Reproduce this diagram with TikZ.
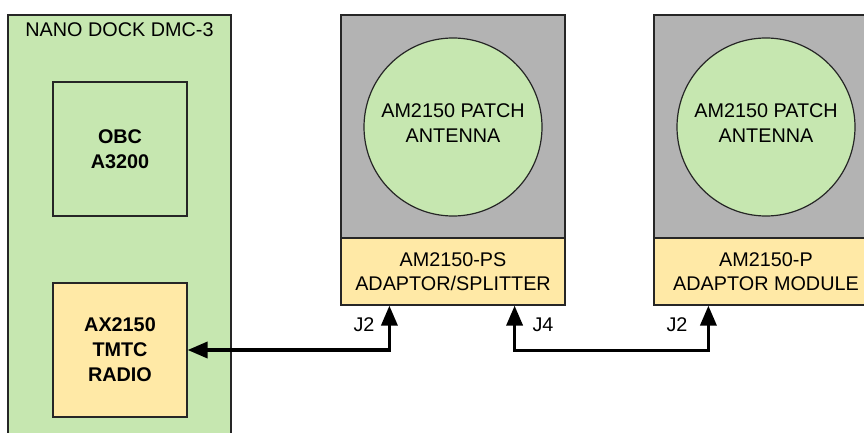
\documentclass[tikz,border=0pt]{standalone}
\usepackage{xcolor}
\usepackage{fontspec}
\setmainfont{Liberation Sans}
\usepackage{tikz}
\usetikzlibrary{arrows.meta,positioning}
\definecolor{boardgreen}{HTML}{C6E7B0}
\definecolor{antgray}{HTML}{B3B3B3}
\definecolor{modyellow}{HTML}{FFE9A6}

\begin{document}
\begin{tikzpicture}[x=1pt, y=-1pt,
  box/.style={draw=black!85, line width=1.2pt, rectangle, inner sep=0pt, align=center,
    font=\fontsize{19.8}{24.5}\selectfont},
  boldbox/.style={box, font=\fontsize{19.8}{25}\selectfont\bfseries, minimum size=134pt},
  antcircle/.style={box, circle, fill=boardgreen, minimum size=178pt},
  txt/.style={inner sep=0pt, font=\fontsize{19.8}{24.5}\selectfont},
  link/.style={line width=3.5pt, {Triangle[length=20pt,width=16pt]}-{Triangle[length=20pt,width=16pt]}}]
\useasboundingbox (0,0) rectangle (864,433);
\node[box, fill=boardgreen, minimum width=223pt, minimum height=430pt] (dock) at (119.5,230) {};
\node[txt] (docktitle) at (119.5,30) {NANO DOCK DMC-3};
\node[boldbox, fill=boardgreen] (obc) at (120,149) {OBC\\A3200};
\node[boldbox, fill=modyellow] (radio) at (120,350) {AX2150\\TMTC\\RADIO};
\node[box, fill=antgray, minimum width=224pt, minimum height=223pt] (psback) at (453,126.5) {};
\node[antcircle] (psant) at (453,127) {};
\node[txt, align=center] (psanttxt) at (453,123) {AM2150 PATCH\\ANTENNA};
\node[box, fill=modyellow, minimum width=224pt, minimum height=67pt] (psadapt) at (453,271.5) {AM2150-PS\\ADAPTOR/SPLITTER};
\node[box, fill=antgray, minimum width=224pt, minimum height=223pt] (pback) at (766,126.5) {};
\node[antcircle] (pant) at (766,127) {};
\node[txt, align=center] (panttxt) at (766,123) {AM2150 PATCH\\ANTENNA};
\node[box, fill=modyellow, minimum width=224pt, minimum height=67pt] (padapt) at (766,271.5) {AM2150-P\\ADAPTOR MODULE};
\coordinate (psj2) at ([xshift=49pt]psadapt.south west);
\coordinate (psj4) at ([xshift=-51pt]psadapt.south east);
\coordinate (pj2) at ([xshift=55pt]padapt.south west);
\node[txt] (psj2lbl) at (364,325) {J2};
\node[txt] (psj4lbl) at (543,325) {J4};
\node[txt] (pj2lbl) at (677,325) {J2};
\draw[link] (radio.east) -| (psj2);
\draw[link] (psj4) |- ++(0,45) -| (pj2);
\end{tikzpicture}
\end{document}
